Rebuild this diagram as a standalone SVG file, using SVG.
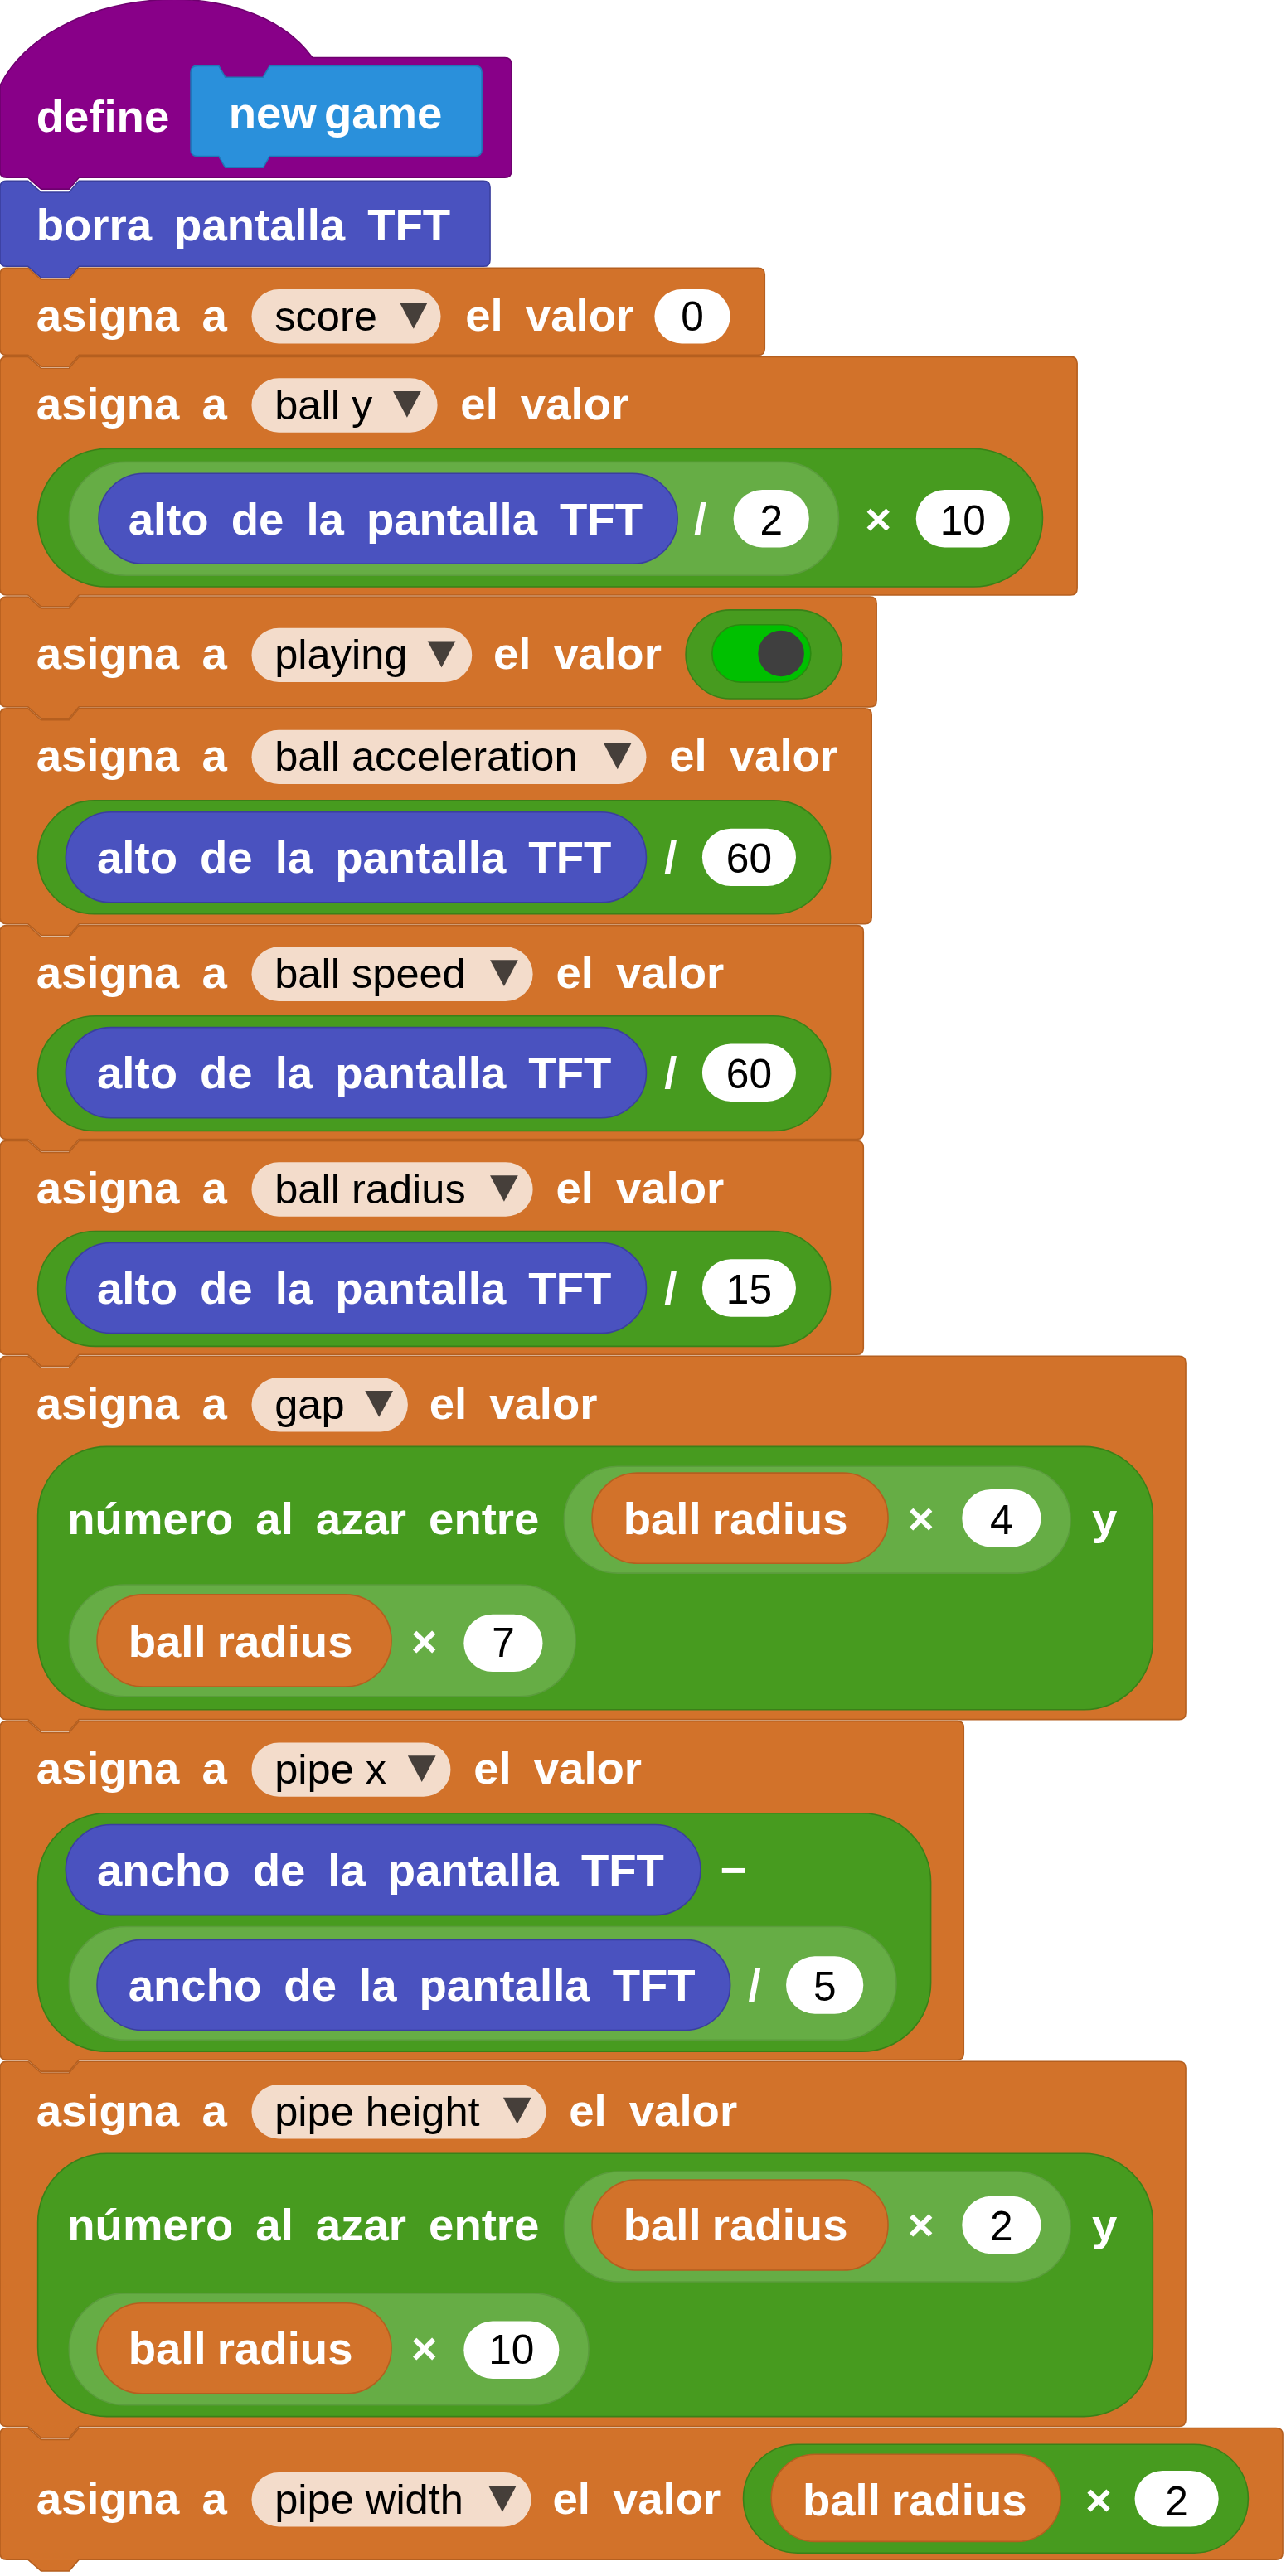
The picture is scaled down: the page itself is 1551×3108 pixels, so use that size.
<svg xmlns="http://www.w3.org/2000/svg" width="1551" height="3108" viewBox="0 0 1551 3108">
<style>
.t{font-family:"Liberation Sans",Arial,sans-serif;font-weight:bold;font-size:27.5px;fill:#fff;word-spacing:6px}
.d{font-family:"Liberation Sans",Arial,sans-serif;font-size:25.5px;fill:#000}
.n{font-family:"Liberation Sans",Arial,sans-serif;font-size:25px;fill:#000;text-anchor:middle}
.or{fill:#D2722A;stroke:#B55F1F;stroke-width:0.8}
.bl{fill:#4A52BF;stroke:#3A3F9E;stroke-width:0.8}
.gr{fill:#479B1F;stroke:#3A8018;stroke-width:0.8}
.lg{fill:#66AD45;stroke:#5B9C3D;stroke-width:0.8}
.pill{fill:#F3DCCB}
.w{fill:#fff}
.tri{fill:#463F3A}
</style>
<rect width="1551" height="3108" fill="#fff"/>
<g transform="scale(1.9834)">
<g id="define">
<path d="M0,52 C30,-8 150,-20 190,35 H307 Q311,35 311,39 V104 Q311,108 307,108 H48 L42,115 H25 L17,108 H4 Q0,108 0,104 Z" fill="#880088" stroke="#6E006E" stroke-width="0.8"/>
<text class="t" x="22" y="80" style="word-spacing:0">define</text>
<path d="M120,40 H133 L137,47 H160 L164,40 H289 Q293,40 293,44 V91 Q293,95 289,95 H164 L160,102 H137 L133,95 H120 Q116,95 116,91 V44 Q116,40 120,40 Z" fill="#2A90DB" stroke="#1F77B8" stroke-width="0.8"/>
<text class="t" x="139" y="78" style="word-spacing:-3px">new game</text>
</g>
<g id="borra">
<path class="bl" d="M0,114 Q0,110 4,110 H17 L25,117 H42 L48,110 H294 Q298,110 298,114 V158 Q298,162 294,162 H48 L42,169 H25 L17,162 H4 Q0,162 0,158 Z"/>
<text class="t" x="22" y="146">borra pantalla TFT</text>
</g>
<g id="score">
<path class="or" d="M0,167 Q0,163 4,163 H17 L25,170 H42 L48,163 H461 Q465,163 465,167 V212 Q465,216 461,216 H48 L42,223 H25 L17,216 H4 Q0,216 0,212 Z"/>
<text class="t" x="22" y="201">asigna a</text>
<rect class="pill" x="153" y="176" width="115" height="33" rx="16.5"/>
<text class="d" x="167" y="201">score</text>
<polygon class="tri" points="243,184 260,184 251.5,200"/>
<text class="t" x="283" y="201">el valor</text>
<rect class="w" x="398" y="176" width="46" height="33" rx="16.5"/>
<text class="n" x="421" y="201">0</text>
</g>
<g id="bally">
<path class="or" d="M0,221 Q0,217 4,217 H17 L25,224 H42 L48,217 H651 Q655,217 655,221 V358 Q655,362 651,362 H48 L42,369 H25 L17,362 H4 Q0,362 0,358 Z"/>
<text class="t" x="22" y="255">asigna a</text>
<rect class="pill" x="153" y="230" width="113" height="33" rx="16.5"/>
<text class="d" x="167" y="255">ball y</text>
<polygon class="tri" points="239,238 256,238 247.5,254"/>
<text class="t" x="280" y="255">el valor</text>
<rect class="gr" x="23" y="273" width="611" height="84" rx="42"/>
<rect class="lg" x="42" y="281" width="468" height="69" rx="34.5"/>
<rect class="bl" x="60" y="288" width="352" height="55" rx="27.5"/>
<text class="t" x="78" y="325">alto de la pantalla TFT</text>
<text class="t" x="422" y="325">/</text>
<rect class="w" x="446" y="298" width="46" height="35" rx="17.5"/>
<text class="n" x="469" y="325">2</text>
<text class="t" x="526" y="325">×</text>
<rect class="w" x="557" y="298" width="57" height="35" rx="17.5"/>
<text class="n" x="585.5" y="325">10</text>
</g>
<g id="playing">
<path class="or" d="M0,367 Q0,363 4,363 H17 L25,370 H42 L48,363 H529 Q533,363 533,367 V426 Q533,430 529,430 H48 L42,437 H25 L17,430 H4 Q0,430 0,426 Z"/>
<text class="t" x="22" y="407">asigna a</text>
<rect class="pill" x="153" y="382" width="134" height="33" rx="16.5"/>
<text class="d" x="167" y="407">playing</text>
<polygon class="tri" points="260,390 277,390 268.5,406"/>
<text class="t" x="300" y="407">el valor</text>
<rect class="gr" x="417" y="371" width="95" height="54" rx="27"/>
<rect x="433" y="380" width="60" height="35" rx="17.5" fill="#00C000" stroke="#2A8A10" stroke-width="0.8"/>
<circle cx="475" cy="397.5" r="14" fill="#3F3F3F"/>
</g>
<g id="accel">
<path class="or" d="M0,435 Q0,431 4,431 H17 L25,438 H42 L48,431 H526 Q530,431 530,435 V558 Q530,562 526,562 H48 L42,569 H25 L17,562 H4 Q0,562 0,558 Z"/>
<text class="t" x="22" y="469">asigna a</text>
<rect class="pill" x="153" y="444" width="240" height="33" rx="16.5"/>
<text class="d" x="167" y="469">ball acceleration</text>
<polygon class="tri" points="367,452 384,452 375.5,468"/>
<text class="t" x="407" y="469">el valor</text>
<rect class="gr" x="23" y="487" width="482" height="69" rx="34.5"/>
<rect class="bl" x="40" y="494" width="353" height="55" rx="27.5"/>
<text class="t" x="59" y="531">alto de la pantalla TFT</text>
<text class="t" x="404" y="531">/</text>
<rect class="w" x="427" y="504" width="57" height="35" rx="17.5"/>
<text class="n" x="455.5" y="531">60</text>
</g>
<g id="speed">
<path class="or" d="M0,567 Q0,563 4,563 H17 L25,570 H42 L48,563 H521 Q525,563 525,567 V689 Q525,693 521,693 H48 L42,700 H25 L17,693 H4 Q0,693 0,689 Z"/>
<text class="t" x="22" y="601">asigna a</text>
<rect class="pill" x="153" y="576" width="171" height="33" rx="16.5"/>
<text class="d" x="167" y="601">ball speed</text>
<polygon class="tri" points="298,584 315,584 306.5,600"/>
<text class="t" x="338" y="601">el valor</text>
<rect class="gr" x="23" y="618" width="482" height="70" rx="35"/>
<rect class="bl" x="40" y="625" width="353" height="55" rx="27.5"/>
<text class="t" x="59" y="662">alto de la pantalla TFT</text>
<text class="t" x="404" y="662">/</text>
<rect class="w" x="427" y="635" width="57" height="35" rx="17.5"/>
<text class="n" x="455.5" y="662">60</text>
</g>
<g id="radius">
<path class="or" d="M0,698 Q0,694 4,694 H17 L25,701 H42 L48,694 H521 Q525,694 525,698 V820 Q525,824 521,824 H48 L42,831 H25 L17,824 H4 Q0,824 0,820 Z"/>
<text class="t" x="22" y="732">asigna a</text>
<rect class="pill" x="153" y="707" width="171" height="33" rx="16.5"/>
<text class="d" x="167" y="732">ball radius</text>
<polygon class="tri" points="298,715 315,715 306.5,731"/>
<text class="t" x="338" y="732">el valor</text>
<rect class="gr" x="23" y="749" width="482" height="70" rx="35"/>
<rect class="bl" x="40" y="756" width="353" height="55" rx="27.5"/>
<text class="t" x="59" y="793">alto de la pantalla TFT</text>
<text class="t" x="404" y="793">/</text>
<rect class="w" x="427" y="766" width="57" height="35" rx="17.5"/>
<text class="n" x="455.5" y="793">15</text>
</g>
<g id="gap">
<path class="or" d="M0,829 Q0,825 4,825 H17 L25,832 H42 L48,825 H717 Q721,825 721,829 V1042 Q721,1046 717,1046 H48 L42,1053 H25 L17,1046 H4 Q0,1046 0,1042 Z"/>
<text class="t" x="22" y="863">asigna a</text>
<rect class="pill" x="153" y="838" width="95" height="33" rx="16.5"/>
<text class="d" x="167" y="863">gap</text>
<polygon class="tri" points="222,846 239,846 230.5,862"/>
<text class="t" x="261" y="863">el valor</text>
<rect class="gr" x="23" y="880" width="678" height="160" rx="42"/>
<text class="t" x="41" y="933">número al azar entre</text>
<rect class="lg" x="343" y="892" width="308" height="65" rx="32.5"/>
<rect class="or" x="360" y="896" width="180" height="55" rx="27.5"/>
<text class="t" x="379" y="933" style="word-spacing:-1px">ball radius</text>
<text class="t" x="552" y="933">×</text>
<rect class="w" x="585" y="906" width="48" height="35" rx="17.5"/>
<text class="n" x="609" y="933">4</text>
<text class="t" x="664" y="933">y</text>
<rect class="lg" x="42" y="964" width="308" height="68" rx="34"/>
<rect class="or" x="59" y="970" width="179" height="56" rx="28"/>
<text class="t" x="78" y="1008" style="word-spacing:-1px">ball radius</text>
<text class="t" x="250" y="1008">×</text>
<rect class="w" x="282" y="982" width="48" height="35" rx="17.5"/>
<text class="n" x="306" y="1008">7</text>
</g>
<g id="pipex">
<path class="or" d="M0,1051 Q0,1047 4,1047 H17 L25,1054 H42 L48,1047 H582 Q586,1047 586,1051 V1249 Q586,1253 582,1253 H48 L42,1260 H25 L17,1253 H4 Q0,1253 0,1249 Z"/>
<text class="t" x="22" y="1085">asigna a</text>
<rect class="pill" x="153" y="1060" width="121" height="33" rx="16.5"/>
<text class="d" x="167" y="1085">pipe x</text>
<polygon class="tri" points="248,1068 265,1068 256.5,1084"/>
<text class="t" x="288" y="1085">el valor</text>
<rect class="gr" x="23" y="1103" width="543" height="145" rx="42"/>
<rect class="bl" x="40" y="1110" width="386" height="55" rx="27.5"/>
<text class="t" x="59" y="1147">ancho de la pantalla TFT</text>
<text class="t" x="438" y="1147">−</text>
<rect class="lg" x="42" y="1172" width="503" height="69" rx="34.5"/>
<rect class="bl" x="59" y="1180" width="385" height="55" rx="27.5"/>
<text class="t" x="78" y="1217">ancho de la pantalla TFT</text>
<text class="t" x="455" y="1217">/</text>
<rect class="w" x="478" y="1190" width="47" height="35" rx="17.5"/>
<text class="n" x="501.5" y="1217">5</text>
</g>
<g id="pipeheight">
<path class="or" d="M0,1258 Q0,1254 4,1254 H17 L25,1261 H42 L48,1254 H717 Q721,1254 721,1258 V1472 Q721,1476 717,1476 H48 L42,1483 H25 L17,1476 H4 Q0,1476 0,1472 Z"/>
<text class="t" x="22" y="1293">asigna a</text>
<rect class="pill" x="153" y="1268" width="179" height="33" rx="16.5"/>
<text class="d" x="167" y="1293">pipe height</text>
<polygon class="tri" points="306,1276 323,1276 314.5,1292"/>
<text class="t" x="346" y="1293">el valor</text>
<rect class="gr" x="23" y="1310" width="678" height="160" rx="42"/>
<text class="t" x="41" y="1363">número al azar entre</text>
<rect class="lg" x="343" y="1321" width="308" height="67" rx="33.5"/>
<rect class="or" x="360" y="1326" width="180" height="55" rx="27.5"/>
<text class="t" x="379" y="1363" style="word-spacing:-1px">ball radius</text>
<text class="t" x="552" y="1363">×</text>
<rect class="w" x="585" y="1336" width="48" height="35" rx="17.5"/>
<text class="n" x="609" y="1363">2</text>
<text class="t" x="664" y="1363">y</text>
<rect class="lg" x="42" y="1395" width="316" height="68" rx="34"/>
<rect class="or" x="59" y="1401" width="179" height="55" rx="27.5"/>
<text class="t" x="78" y="1438" style="word-spacing:-1px">ball radius</text>
<text class="t" x="250" y="1438">×</text>
<rect class="w" x="282" y="1412" width="58" height="35" rx="17.5"/>
<text class="n" x="311" y="1438">10</text>
</g>
<g id="pipewidth">
<path class="or" d="M0,1481 Q0,1477 4,1477 H17 L25,1484 H42 L48,1477 H776 Q780,1477 780,1481 V1553 Q780,1557 776,1557 H48 L42,1564 H25 L17,1557 H4 Q0,1557 0,1553 Z"/>
<text class="t" x="22" y="1529">asigna a</text>
<rect class="pill" x="153" y="1504" width="170" height="33" rx="16.5"/>
<text class="d" x="167" y="1529">pipe width</text>
<polygon class="tri" points="297,1512 314,1512 305.5,1528"/>
<text class="t" x="336" y="1529">el valor</text>
<rect class="gr" x="452" y="1487" width="307" height="66" rx="33"/>
<rect class="or" x="469" y="1493" width="176" height="53" rx="26.5"/>
<text class="t" x="488" y="1530" style="word-spacing:-1px">ball radius</text>
<text class="t" x="660" y="1530">×</text>
<rect class="w" x="690" y="1503" width="51" height="34" rx="17"/>
<text class="n" x="715.5" y="1530">2</text>
</g>
</g>
</svg>
